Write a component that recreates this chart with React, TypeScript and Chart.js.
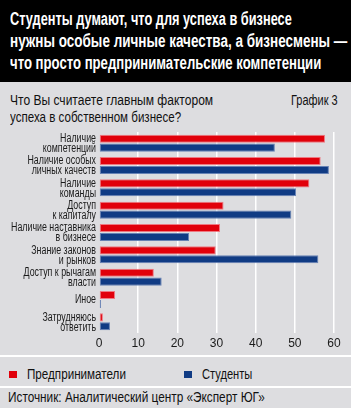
import React, { useEffect, useLayoutEffect, useRef, useState } from "react";
import { Chart, registerables } from "chart.js";
Chart.register(...registerables);

const categories: string[][] = [
  ["Наличие", "компетенций"],
  ["Наличие особых", "личных качеств"],
  ["Наличие", "команды"],
  ["Доступ", "к капиталу"],
  ["Наличие наставника", "в бизнесе"],
  ["Знание законов", "и рынков"],
  ["Доступ к рычагам", "власти"],
  ["Иное"],
  ["Затрудняюсь", "ответить"],
];
const entrepreneurs = [57.7, 56.6, 53.7, 31.8, 30.9, 29.8, 14.0, 4.1, 1.0];
const students = [44.9, 58.7, 50.3, 49.1, 23.0, 56.0, 16.0, 0.5, 2.8];
const xMin = 0;
const xMax = 60;
const xStep = 10;

const seriesNames = ["Предприниматели", "Студенты"];
const RED = "#e1000b";
const BLUE = "#103b84";
const BG = "#dddde0";
const FONT = '"Liberation Sans", Arial, sans-serif';

type FitProps = {
  children: React.ReactNode;
  left: number;
  right: number;
  cy: number;
  size: number;
  weight?: string;
  color?: string;
  lh?: number;
};

function Fit({ children, left, right, cy, size, weight = "normal", color = "#111", lh = 18 }: FitProps) {
  const ref = useRef<HTMLSpanElement | null>(null);
  const [sx, setSx] = useState(1);
  useLayoutEffect(() => {
    if (ref.current) {
      const w = ref.current.offsetWidth;
      if (w > 0) setSx((right - left) / w);
    }
  }, [left, right]);
  return (
    <span
      ref={ref}
      style={{
        position: "absolute",
        left,
        top: cy - lh / 2,
        lineHeight: lh + "px",
        fontSize: size,
        fontWeight: weight as any,
        fontFamily: FONT,
        color,
        whiteSpace: "nowrap",
        transform: `scaleX(${sx})`,
        transformOrigin: "left center",
      }}
    >
      {children}
    </span>
  );
}

const yLabelPlugin = {
  id: "yLabels",
  afterDraw(chart: any) {
    const ctx = chart.ctx as CanvasRenderingContext2D;
    const y = chart.scales.y;
    ctx.save();
    ctx.font = `12px ${FONT}`;
    const sx = 85 / ctx.measureText("Наличие наставника").width;
    ctx.fillStyle = "#1a1a1a";
    ctx.textAlign = "right";
    ctx.textBaseline = "middle";
    categories.forEach((lines, i) => {
      const cy = y.getPixelForTick(i);
      const n = lines.length;
      lines.forEach((ln, j) => {
        const ly = cy + (j - (n - 1) / 2) * 10 + 0.5;
        ctx.save();
        ctx.translate(96, ly);
        ctx.scale(sx, 1);
        ctx.fillText(ln, 0, 0);
        ctx.restore();
      });
    });
    ctx.restore();
  },
};

export default function App() {
  const ref = useRef<HTMLCanvasElement | null>(null);
  useEffect(() => {
    if (!ref.current) return;
    const chart = new Chart(ref.current, {
      type: "bar",
      data: {
        labels: categories.map((c) => c.join(" ")),
        datasets: [
          {
            label: seriesNames[0],
            data: entrepreneurs,
            backgroundColor: RED,
            borderColor: "rgba(240,110,120,0.9)",
            borderWidth: 1,
            borderSkipped: false,
            barPercentage: 0.9,
            categoryPercentage: 0.8,
          },
          {
            label: seriesNames[1],
            data: students,
            backgroundColor: BLUE,
            borderColor: "rgba(90,120,175,0.9)",
            borderWidth: 1,
            borderSkipped: false,
            barPercentage: 0.9,
            categoryPercentage: 0.8,
          },
        ],
      },
      options: {
        indexAxis: "y",
        animation: false,
        responsive: false,
        maintainAspectRatio: false,
        layout: { padding: { top: 12, right: 17, left: 0, bottom: 0 } },
        plugins: {
          legend: { display: false },
          tooltip: { enabled: false },
        },
        scales: {
          x: {
            min: xMin,
            max: xMax,
            ticks: {
              stepSize: xStep,
              padding: 3,
              color: "#1a1a1a",
              font: { family: FONT, size: 12 },
            },
            grid: {
              drawTicks: false,
              lineWidth: 1.5,
              color: (c: any) => (c.tick && c.tick.value === 0 ? "rgba(0,0,0,0)" : "#ffffff"),
            },
            border: { display: false },
            afterFit: (s: any) => {
              s.height = 17;
            },
          },
          y: {
            ticks: { display: false, autoSkip: false },
            grid: { display: false },
            border: { display: false },
            afterFit: (s: any) => {
              s.width = 99;
            },
          },
        },
      },
      plugins: [yLabelPlugin],
    });
    return () => chart.destroy();
  }, []);

  return (
    <div style={{ position: "fixed", left: 0, top: 0, width: 351, height: 417, background: BG, overflow: "hidden" }}>
      <div style={{ position: "absolute", left: 0, top: 0, width: 351, height: 82, background: "#000" }} />
      <Fit left={10} right={292} cy={19} size={18} weight="bold" color="#fff" lh={22}>
        Студенты думают, что для успеха в бизнесе
      </Fit>
      <Fit left={10} right={347} cy={41} size={18} weight="bold" color="#fff" lh={22}>
        нужны особые личные качества, а бизнесмены —
      </Fit>
      <Fit left={10} right={321} cy={63} size={18} weight="bold" color="#fff" lh={22}>
        что просто предпринимательские компетенции
      </Fit>
      <Fit left={10} right={213} cy={100} size={14} lh={17}>
        Что Вы считаете главным фактором
      </Fit>
      <Fit left={10} right={181} cy={117} size={14} lh={17}>
        успеха в собственном бизнесе?
      </Fit>
      <Fit left={291} right={338} cy={100} size={14} lh={17}>
        График 3
      </Fit>
      <canvas ref={ref} width={351} height={230} style={{ position: "absolute", left: 0, top: 120, width: 351, height: 230 }} />
      <div style={{ position: "absolute", left: 0, top: 355, width: 351, height: 2, background: "#fff" }} />
      <div style={{ position: "absolute", left: 9, top: 371, width: 8, height: 7, background: RED }} />
      <Fit left={27} right={126} cy={374} size={14} lh={16}>
        {seriesNames[0]}
      </Fit>
      <div style={{ position: "absolute", left: 184, top: 371, width: 8, height: 7, background: BLUE }} />
      <Fit left={202} right={252} cy={374} size={14} lh={16}>
        {seriesNames[1]}
      </Fit>
      <div style={{ position: "absolute", left: 0, top: 386, width: 351, height: 2, background: "#fff" }} />
      <Fit left={8} right={265} cy={397} size={14} lh={16}>
        Источник: Аналитический центр «Эксперт ЮГ»
      </Fit>
      <div style={{ position: "absolute", left: 0, top: 408, width: 351, height: 9, background: "#fff" }} />
    </div>
  );
}
